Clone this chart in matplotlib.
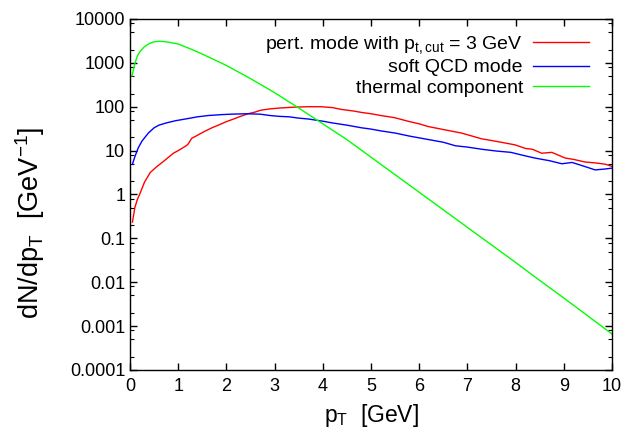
import matplotlib
matplotlib.use("Agg")
import matplotlib.pyplot as plt
import numpy as np
from matplotlib.ticker import FixedLocator, FuncFormatter, LogLocator, NullFormatter

plt.rcParams['font.family'] = ['Liberation Sans', 'DejaVu Sans']
plt.rcParams['mathtext.fontset'] = 'custom'
plt.rcParams['mathtext.rm'] = 'Liberation Sans'
plt.rcParams['mathtext.it'] = 'Liberation Sans:italic'

# --- data (pT in GeV, log10 of dN/dpT) ---
pt_thermal = [0.04, 0.1, 0.15, 0.2, 0.3, 0.4, 0.5, 0.6, 0.7, 0.8, 0.9, 1.0, 1.25, 1.5, 1.75,
              2.0, 2.5, 3.0, 3.5, 4.0, 4.5, 5.0, 5.5, 6.0, 6.5, 7.0, 7.5, 8.0, 8.5, 9.0, 9.5, 10.0]
log_thermal = [2.70, 2.98, 3.15, 3.25, 3.37, 3.44, 3.48, 3.49, 3.485, 3.47, 3.45, 3.43, 3.32, 3.20, 3.07,
               2.94, 2.64, 2.32, 1.97, 1.61, 1.25, 0.85, 0.45, 0.05, -0.35, -0.75, -1.15, -1.55, -1.96,
               -2.36, -2.77, -3.18]

pt_soft = [0.05, 0.1, 0.17, 0.25, 0.38, 0.5, 0.6, 0.75, 0.94, 1.2, 1.4, 1.63, 1.9, 2.1, 2.4, 2.7,
           2.9, 3.1, 3.3, 3.5, 3.7, 4.0, 4.2, 4.5, 4.8, 5.0, 5.2, 5.5, 5.8, 6.0, 6.2, 6.5, 6.75,
           7.0, 7.3, 7.6, 7.9, 8.2, 8.4, 8.7, 8.96, 9.17, 9.4, 9.65, 9.85, 10.0]
log_soft = [0.69, 0.86, 1.06, 1.22, 1.40, 1.52, 1.58, 1.63, 1.68, 1.73, 1.77, 1.80, 1.82, 1.83, 1.84, 1.83,
            1.80, 1.78, 1.77, 1.74, 1.72, 1.67, 1.63, 1.58, 1.52, 1.49, 1.45, 1.40, 1.33, 1.29, 1.25, 1.19, 1.11,
            1.08, 1.03, 0.99, 0.96, 0.88, 0.83, 0.77, 0.70, 0.73, 0.65, 0.56, 0.58, 0.60]

pt_pert = [0.05, 0.1, 0.15, 0.21, 0.3, 0.42, 0.55, 0.69, 0.8, 0.9, 1.0, 1.15, 1.2, 1.28, 1.4, 1.55,
           1.7, 1.81, 2.0, 2.15, 2.29, 2.45, 2.6, 2.71, 2.9, 3.1, 3.4, 3.7, 3.96, 4.2, 4.375, 4.65,
           4.8, 5.0, 5.2, 5.49, 5.8, 6.0, 6.18, 6.5, 6.875, 7.1, 7.29, 7.5, 7.75, 7.99, 8.2, 8.35,
           8.54, 8.75, 9.03, 9.2, 9.44, 9.65, 9.86, 10.0]
log_pert = [-0.63, -0.30, -0.12, 0.03, 0.28, 0.50, 0.63, 0.75, 0.85, 0.94, 1.00, 1.10, 1.14, 1.28, 1.35, 1.44,
            1.52, 1.57, 1.66, 1.72, 1.78, 1.84, 1.88, 1.92, 1.95, 1.97, 1.99, 2.00, 2.00, 1.98, 1.94, 1.90,
            1.87, 1.84, 1.80, 1.75, 1.66, 1.61, 1.55, 1.48, 1.40, 1.33, 1.27, 1.23, 1.18, 1.13, 1.05, 1.03,
            0.94, 0.96, 0.83, 0.80, 0.74, 0.72, 0.69, 0.64]

labels = [r'pert. mode with p$_\mathregular{t,cut}$ = 3 GeV', 'soft QCD mode', 'thermal component']
xticks = list(range(0, 11))
yticks = [1e-4, 1e-3, 1e-2, 1e-1, 1, 10, 100, 1000, 10000]

fig = plt.figure(figsize=(6.26, 4.34), dpi=100)
ax = fig.add_axes([0.2077, 0.1475, 0.770, 0.8088])

ax.plot(pt_pert, 10 ** np.array(log_pert), color='#ff0000', lw=1.0, label=labels[0])
ax.plot(pt_soft, 10 ** np.array(log_soft), color='#0000ff', lw=1.0, label=labels[1])
ax.plot(pt_thermal, 10 ** np.array(log_thermal), color='#00ff00', lw=1.0, label=labels[2])

ax.set_yscale('log')
ax.set_xlim(0, 10)
ax.set_ylim(1e-4, 1e4)
ax.xaxis.set_major_locator(FixedLocator(xticks))
ax.yaxis.set_major_locator(FixedLocator(yticks))
ax.yaxis.set_major_formatter(FuncFormatter(lambda v, p: '%g' % v))
ax.yaxis.set_minor_locator(LogLocator(base=10, subs=[2, 5, 8], numticks=20))
ax.yaxis.set_minor_formatter(NullFormatter())
ax.tick_params(which='both', direction='in', top=True, right=True, labelsize=13)
ax.tick_params(which='major', length=5, width=1)
ax.tick_params(which='minor', length=3, width=0.8)
ax.tick_params(axis='x', pad=6)
for s in ax.spines.values():
    s.set_linewidth(1.0)

ax.set_xlabel(r'p$_\mathregular{T}$  [GeV]', fontsize=16.5, labelpad=5)
ax.set_ylabel(r'dN/dp$_\mathregular{T}$  [GeV$^\mathregular{-1}$]', fontsize=19.5,
              va='center')
ax.yaxis.set_label_coords(-0.207, 0.42)

leg = ax.legend(loc='upper right', frameon=False, fontsize=14, markerfirst=False,
                handlelength=2.9, handletextpad=0.5, labelspacing=0.15,
                borderpad=0.0, borderaxespad=0.0,
                bbox_to_anchor=((589 - 130) / 482, 0.957))
try:
    for col in leg._legend_handle_box.get_children():
        col.align = 'right'
except Exception:
    pass

fig.savefig('out.png', dpi=100)
